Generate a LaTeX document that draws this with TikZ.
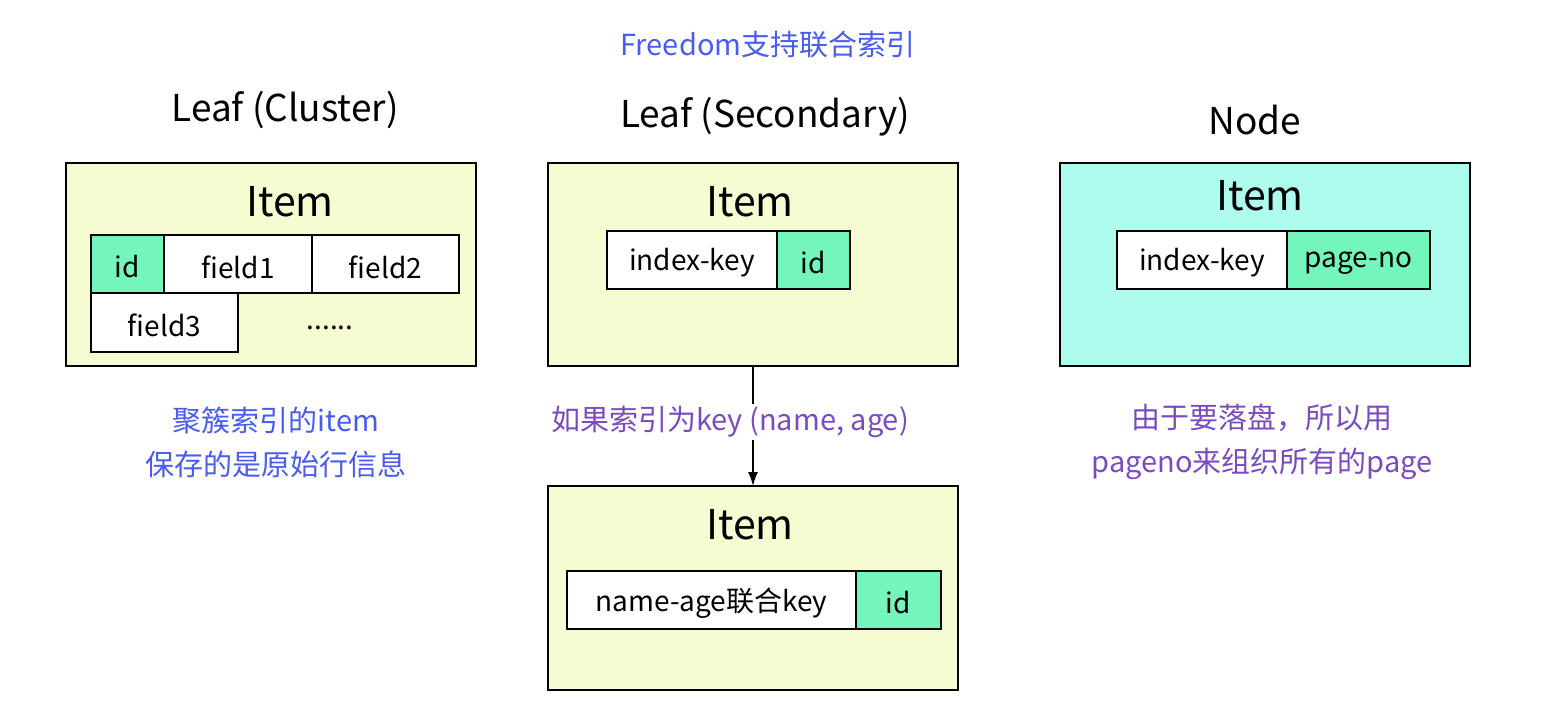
\documentclass[tikz,border=0pt]{standalone}
\usepackage{fontspec}
\setmainfont{Noto Sans CJK SC}
\usetikzlibrary{arrows.meta}
\definecolor{boxy}{HTML}{F5FCD2}
\definecolor{boxc}{HTML}{AEFCEE}
\definecolor{cellg}{HTML}{74F5BB}
\definecolor{tblue}{HTML}{4A5CF0}
\definecolor{tpurp}{HTML}{7A4BBF}
\begin{document}
\begin{tikzpicture}[x=1pt,y=-1pt,
  box/.style={draw,line width=1.5pt,fill=boxy},
  cell/.style={draw,line width=1.5pt,fill=white},
  gcell/.style={draw,line width=1.5pt,fill=cellg},
  ct/.style={font=\fontsize{28}{30}\selectfont,yshift=-3pt},
  it/.style={font=\fontsize{41}{44}\selectfont},
  tt/.style={font=\fontsize{37}{40}\selectfont},
  bl/.style={font=\fontsize{29}{44}\selectfont,text=tblue,align=center},
  pu/.style={font=\fontsize{29}{44}\selectfont,text=tpurp,align=center}]
\useasboundingbox (0,0) rectangle (1544,716);
\node[bl] (free) at (768,45) {Freedom支持联合索引};
\node[tt] (t1) at (285,110) {Leaf (Cluster)};
\node[tt] (t2) at (765,117) {Leaf (Secondary)};
\node[tt] (t3) at (1255,120) {Node};
% left
\draw[box] (66,163) rectangle (476,366);
\node[it] (i1) at (290,202) {Item};
\draw[gcell] (91,235) rectangle node[ct]{id} (164,293);
\draw[cell] (164,235) rectangle node[ct]{field1} (312,293);
\draw[cell] (312,235) rectangle node[ct]{field2} (459,293);
\draw[cell] (91,293) rectangle node[ct]{field3} (238,352);
\node[ct] (dots) at (330,325) {......};
% middle
\draw[box] (548,163) rectangle (958,366);
\node[it] (i2) at (750,202) {Item};
\draw[cell] (607,231) rectangle node[ct]{index-key} (777,289);
\draw[gcell] (777,231) rectangle node[ct]{id} (850,289);
% right
\draw[line width=1.5pt,fill=boxc] (1060,163) rectangle (1470,366);
\node[it] (i3) at (1260,196) {Item};
\draw[cell] (1117,231) rectangle node[ct]{index-key} (1287,289);
\draw[gcell] (1287,231) rectangle node[ct]{page-no} (1430,289);
% bottom
\draw[box] (548,486) rectangle (958,690);
\node[it] (i4) at (750,525) {Item};
\draw[cell] (567,571) rectangle node[ct]{name-age联合key} (856,629);
\draw[gcell] (856,571) rectangle node[ct]{id} (941,629);
\coordinate (a1) at (753,366);
\coordinate (a2) at (753,486);
\draw[line width=1.5pt,-{Latex[length=14pt,width=10pt]}] (a1) -- (a2);
\node[pu,fill=white,inner sep=2pt] (lab) at (730,422) {如果索引为key (name, age)};
\node[bl] (l1) at (276,442) {聚簇索引的item\\保存的是原始行信息};
\node[pu] (l2) at (1262,442) {由于要落盘，所以用\\pageno来组织所有的page};
\end{tikzpicture}
\end{document}
